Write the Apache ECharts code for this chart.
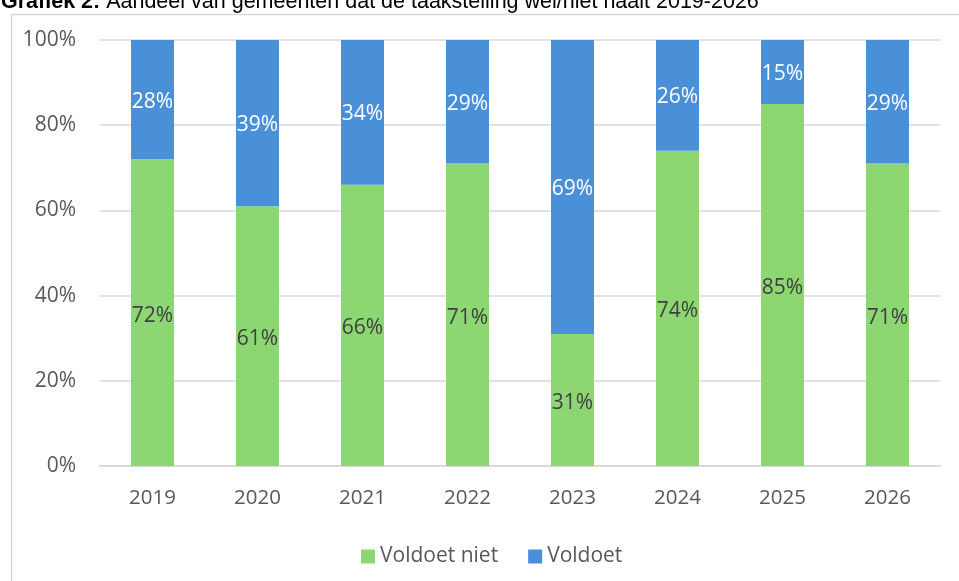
<!DOCTYPE html>
<html><head><meta charset="utf-8">
<script src="https://cdn.jsdelivr.net/npm/echarts@6/dist/echarts.min.js"></script>
<style>html,body{margin:0;padding:0;background:#fff}#c{width:959px;height:581px}</style>
</head><body><div id="c"></div>
<script>
const years = ['2019','2020','2021','2022','2023','2024','2025','2026'];
const voldoetNiet = [72, 61, 66, 71, 31, 74, 85, 71];
const voldoet = [28, 39, 34, 29, 69, 26, 15, 29];
const yTicks = [0, 20, 40, 60, 80, 100];
const titleBold = 'Grafiek 2:';
const titleRest = ' Aandeel van gemeenten dat de taakstelling wel/niet haalt 2019-2026';

const chart = echarts.init(document.getElementById('c'), null, {renderer: 'canvas'});
const font = '"Open Sans", sans-serif';
chart.setOption({
  animation: false,
  backgroundColor: '#fff',
  graphic: [
    {type: 'rect', left: 9, top: 12, shape: {width: 1000, height: 620}, style: {fill: 'none', stroke: '#d9d9d9', lineWidth: 1.5}},
    {type: 'text', left: 1, top: -9, style: {
      rich: {b: {fontWeight: 'bold', fontFamily: '"Liberation Sans", Arial', fontSize: 21.5, fill: '#000'},
             n: {fontFamily: '"Liberation Sans", Arial', fontSize: 21.5, fill: '#000'}},
      text: '{b|' + titleBold + '}{n|' + titleRest + '}'
    }}
  ],
  grid: {left: 100, right: 19, top: 40, bottom: 115},
  legend: {
    left: 356, top: 541, itemWidth: 14, itemHeight: 14, itemGap: 30,
    textStyle: {fontFamily: font, fontSize: 21, color: '#595959'},
    data: [{name: 'Voldoet niet', icon: 'rect'}, {name: 'Voldoet', icon: 'rect'}]
  },
  xAxis: {
    type: 'category', data: years,
    axisLine: {lineStyle: {color: '#d9d9d9', width: 2}},
    axisTick: {show: false},
    axisLabel: {fontFamily: font, fontSize: 20.5, color: '#595959', margin: 22}
  },
  yAxis: {
    type: 'value', min: 0, max: 100, interval: 20,
    axisLabel: {fontFamily: font, fontSize: 21, color: '#595959', margin: 24, padding: [6, 0, 0, 0],
      formatter: v => yTicks.includes(v) ? v + '%' : ''},
    splitLine: {lineStyle: {color: '#d9d9d9', width: 1.5}},
    axisLine: {show: false}, axisTick: {show: false}
  },
  series: [
    {name: 'Voldoet niet', type: 'bar', stack: 's', data: voldoetNiet, barWidth: 43,
     itemStyle: {color: '#8dd773'},
     label: {show: true, position: 'inside', offset: [0, 3], formatter: '{c}%', fontFamily: font, fontSize: 21, color: '#404040'}},
    {name: 'Voldoet', type: 'bar', stack: 's', data: voldoet, barWidth: 43,
     itemStyle: {color: '#4a90d9'},
     label: {show: true, position: 'inside', offset: [0, 2], formatter: '{c}%', fontFamily: font, fontSize: 21, color: '#ffffff'}}
  ]
});
</script></body></html>
